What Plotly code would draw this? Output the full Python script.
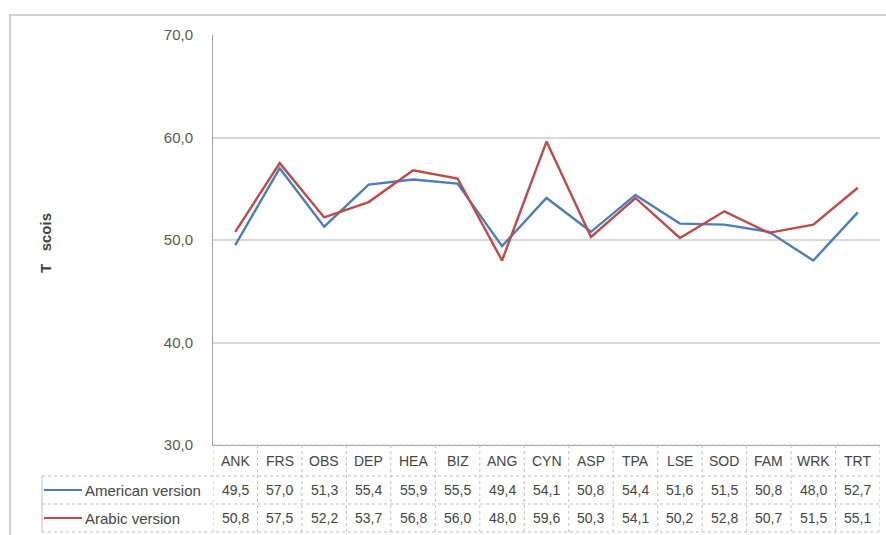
import plotly.graph_objects as go

categories = ["ANK", "FRS", "OBS", "DEP", "HEA", "BIZ", "ANG", "CYN", "ASP", "TPA", "LSE", "SOD", "FAM", "WRK", "TRT"]
american = [49.5, 57.0, 51.3, 55.4, 55.9, 55.5, 49.4, 54.1, 50.8, 54.4, 51.6, 51.5, 50.8, 48.0, 52.7]
arabic = [50.8, 57.5, 52.2, 53.7, 56.8, 56.0, 48.0, 59.6, 50.3, 54.1, 50.2, 52.8, 50.7, 51.5, 55.1]
series_names = ["American version", "Arabic version"]
series_colors = ["#4A7EBB", "#BE4B48"]
y_title = "T   scois"

W, H = 886, 535
L, R, T, B = 213, 6, 35, 90
PW, PH = W - L - R, H - T - B


def px_x(p):
    return (p - L) / PW


def px_y(p):
    return (H - B - p) / PH


fig = go.Figure()
xs = list(range(len(categories)))
for name, vals, col in zip(series_names, [american, arabic], series_colors):
    fig.add_trace(go.Scatter(x=xs, y=vals, mode="lines", name=name,
                             line=dict(color=col, width=2.4), showlegend=False))

font_family = "Liberation Sans, Arial, sans-serif"
txt_col = "#454545"
grid_col = "#BFBFBF"

shapes = []
annotations = []

# outer chart frame
shapes.append(dict(type="rect", xref="paper", yref="paper",
                   x0=px_x(10), x1=px_x(900), y0=px_y(550), y1=px_y(15),
                   line=dict(color="#D0D0D0", width=2), layer="below"))

row_tops = [445, 476, 504, 532]
row_centers = [461, 490, 518]

# table vertical lines
for i in range(len(categories) + 1):
    shapes.append(dict(type="line", xref="x", yref="paper",
                       x0=i - 0.5, x1=i - 0.5, y0=px_y(445), y1=px_y(532),
                       line=dict(color=grid_col, width=1, dash="dot")))
# table horizontal lines
for j, yy in enumerate(row_tops):
    x0 = px_x(213) if j == 0 else px_x(42)
    shapes.append(dict(type="line", xref="paper", yref="paper",
                       x0=x0, x1=1, y0=px_y(yy), y1=px_y(yy),
                       line=dict(color=grid_col, width=1, dash="dot")))
# legend column box left border
shapes.append(dict(type="line", xref="paper", yref="paper",
                   x0=px_x(42), x1=px_x(42), y0=px_y(476), y1=px_y(532),
                   line=dict(color=grid_col, width=1)))

fs = 14
# header labels
for i, c in enumerate(categories):
    annotations.append(dict(x=i, y=px_y(row_centers[0]), xref="x", yref="paper",
                            text=c, showarrow=False, xanchor="center", yanchor="middle",
                            font=dict(family=font_family, size=fs, color=txt_col)))

# value rows
for r, (name, vals, col) in enumerate(zip(series_names, [american, arabic], series_colors)):
    yc = px_y(row_centers[r + 1])
    for i, v in enumerate(vals):
        annotations.append(dict(x=i, y=yc, xref="x", yref="paper",
                                text=f"{v:.1f}".replace(".", ","), showarrow=False,
                                xanchor="center", yanchor="middle",
                                font=dict(family=font_family, size=fs, color=txt_col)))
    shapes.append(dict(type="line", xref="paper", yref="paper",
                       x0=px_x(44), x1=px_x(82), y0=yc, y1=yc,
                       line=dict(color=col, width=2)))
    annotations.append(dict(x=px_x(83), y=yc, xref="paper", yref="paper",
                            text=name, showarrow=False, xanchor="left", yanchor="middle",
                            font=dict(family=font_family, size=15, color=txt_col)))

# y-axis title
annotations.append(dict(x=px_x(45), y=px_y(243), xref="paper", yref="paper",
                        text="<b>" + y_title + "</b>", showarrow=False, textangle=-90,
                        xanchor="center", yanchor="middle",
                        font=dict(family=font_family, size=15, color="#404040")))

fig.update_layout(
    width=W, height=H,
    margin=dict(l=L, r=R, t=T, b=B, autoexpand=False),
    paper_bgcolor="white", plot_bgcolor="white",
    separators=",.",
    shapes=shapes, annotations=annotations,
    xaxis=dict(range=[-0.5, len(categories) - 0.5], showticklabels=False,
               showgrid=False, zeroline=False, showline=True,
               linecolor="#A0A0A0", linewidth=1, ticks=""),
    yaxis=dict(range=[30, 70], dtick=10, tickformat=".1f",
               showgrid=True, gridcolor="#D9D9D9", gridwidth=2,
               zeroline=False, showline=True, linecolor="#A0A0A0", linewidth=1,
               ticks="", ticklabelstandoff=16,
               tickfont=dict(family=font_family, size=15, color="#595959")),
)

fig.write_html("out.html")
